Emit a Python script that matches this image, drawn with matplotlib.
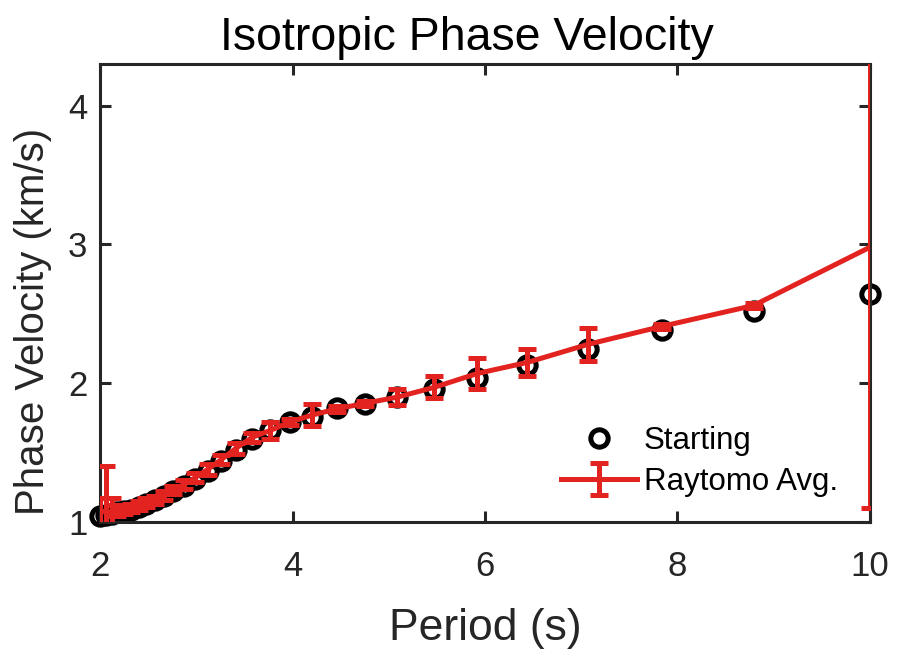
import matplotlib
matplotlib.use('Agg')
import matplotlib.pyplot as plt

# periods (s)
period = [10.0, 8.79, 7.84, 7.07, 6.44, 5.92, 5.47, 5.09, 4.75, 4.46,
          4.20, 3.97, 3.77, 3.58, 3.41, 3.26, 3.12, 2.99, 2.87, 2.76,
          2.66, 2.57, 2.48, 2.40, 2.32, 2.25, 2.18, 2.12, 2.06, 2.00]

# starting model phase velocity (km/s)
starting = [2.64, 2.52, 2.38, 2.25, 2.13, 2.04, 1.96, 1.90, 1.85, 1.82,
            1.76, 1.72, 1.66, 1.60, 1.52, 1.44, 1.37, 1.31, 1.26, 1.22,
            1.19, 1.16, 1.13, 1.11, 1.09, 1.08, 1.07, 1.06, 1.05, 1.04]

# raytomo average and its error
raytomo = [2.98, 2.56, 2.41, 2.28, 2.15, 2.07, 1.97, 1.90, 1.855, 1.815,
           1.77, 1.72, 1.66, 1.61, 1.53, 1.45, 1.38, 1.32, 1.27, 1.23,
           1.19, 1.16, 1.14, 1.12, 1.10, 1.09, 1.08, 1.07, 1.08, 1.07]
raytomo_err = [1.88, 0.02, 0.02, 0.12, 0.10, 0.11, 0.08, 0.06, 0.02, 0.02,
               0.08, 0.02, 0.06, 0.03, 0.04, 0.03, 0.04, 0.03, 0.03, 0.03,
               0.03, 0.03, 0.03, 0.03, 0.03, 0.03, 0.04, 0.10, 0.32, 0.10]

xticks = [2, 4, 6, 8, 10]
yticks = [1, 2, 3, 4]

dark = '#262626'
red = '#e32320'

plt.rcParams['font.family'] = ['Liberation Sans', 'DejaVu Sans']

fig = plt.figure(figsize=(8.98, 6.53), dpi=100)
ax = fig.add_axes([0.1114, 0.2006, 0.8574, 0.7014])

ax.plot(period, starting, 'o', ms=12.5, mfc='none', mec='black', mew=3.6,
        clip_on=False, zorder=2, label='Starting')
ax.errorbar(period, raytomo, yerr=raytomo_err, color=red, lw=3.6,
            elinewidth=3.6, capsize=6.5, capthick=3.6, zorder=3,
            label='Raytomo Avg.')

ax.set_xlim(2, 10)
ax.set_ylim(1, 4.3)
ax.set_xticks(xticks)
ax.set_yticks(yticks)
ax.tick_params(direction='in', length=8, width=2.2, colors=dark,
               labelsize=25, top=True, right=True)
ax.tick_params(axis='x', pad=20)
ax.tick_params(axis='y', pad=9)
for s in ax.spines.values():
    s.set_linewidth(2.2)
    s.set_color(dark)

ax.set_xlabel('Period (s)', fontsize=32, color=dark, labelpad=18)
ax.set_ylabel('Phase Velocity (km/s)', fontsize=29, color=dark)
ax.yaxis.set_label_coords(-0.062, 0.437)
ax.set_title('Isotropic Phase Velocity', fontsize=33.5, color='black',
             x=0.4766, pad=10)

leg = ax.legend(loc='lower right', frameon=False, fontsize=22.5,
                handlelength=2.43, handletextpad=0.22, labelspacing=0.36,
                borderpad=0, borderaxespad=0,
                bbox_to_anchor=(0.958, 0.055))

fig.savefig('out.png', dpi=100)
